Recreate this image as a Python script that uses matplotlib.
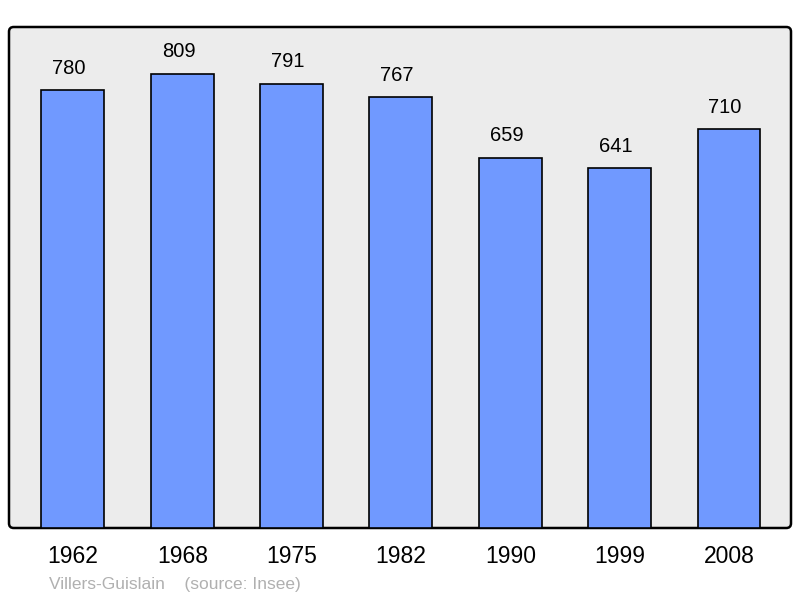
import matplotlib.pyplot as plt
from matplotlib.patches import FancyBboxPatch

years = ["1962", "1968", "1975", "1982", "1990", "1999", "2008"]
population = [780, 809, 791, 767, 659, 641, 710]
commune = "Villers-Guislain"
source = "(source: Insee)"

plt.rcParams["font.family"] = ["Liberation Sans", "DejaVu Sans"]

fig = plt.figure(figsize=(8, 5.98), dpi=100)
ax = fig.add_axes([9 / 800, 70 / 598, 782 / 800, 501 / 598])
ax.set_xlim(-0.585, 6.567)
ax.set_ylim(0, 892)
ax.set_facecolor("none")
for s in ax.spines.values():
    s.set_visible(False)

frame = FancyBboxPatch((0, 0), 1, 1, boxstyle="round,pad=0,rounding_size=0.006",
                       transform=ax.transAxes, facecolor="#ececec",
                       edgecolor="black", linewidth=1.8, zorder=0,
                       mutation_aspect=782 / 501, clip_on=False)
ax.add_patch(frame)

x = range(len(years))
ax.bar(x, population, width=0.576, color="#7099ff", edgecolor="black",
       linewidth=1.2, zorder=2)

for i, v in zip(x, population):
    ax.text(i - 0.035, v + 39, str(v), ha="center", va="center", fontsize=14.5, zorder=3)

ax.set_xticks(list(x))
ax.set_xticklabels(years, fontsize=16.5)
ax.tick_params(axis="x", length=0, pad=12)
ax.set_yticks([])

fig.text(49 / 800, 1 - 584 / 598, commune + "    " + source, fontsize=12.5,
         color="#b0b0b0", ha="left", va="center")

fig.savefig("out.png", dpi=100)
